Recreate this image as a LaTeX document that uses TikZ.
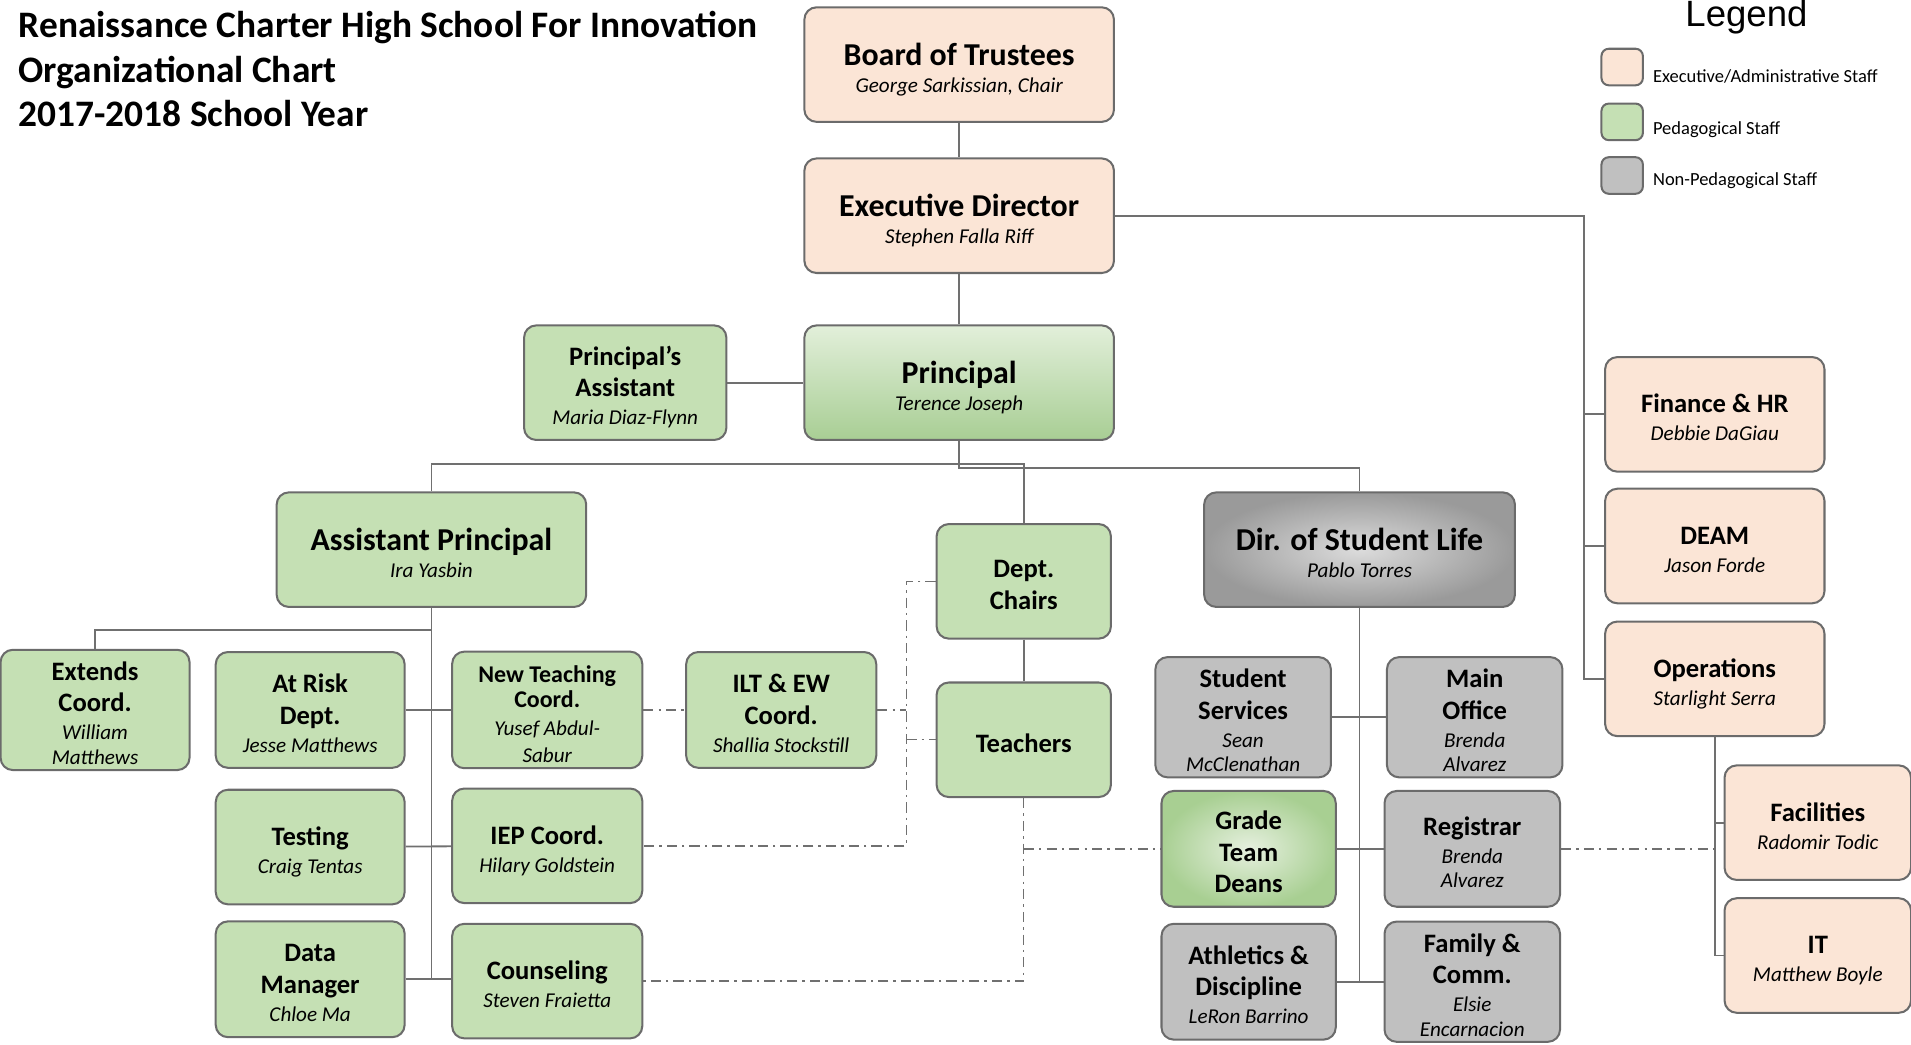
\documentclass[tikz,border=0pt]{standalone}
\usepackage{fontspec}
\setmainfont{Carlito}
\newfontfamily\legendfont{Liberation Sans}
\definecolor{peach}{HTML}{FBE5D6}
\definecolor{pedgreen}{HTML}{C5E0B4}
\definecolor{npgray}{HTML}{C0C0C0}
\definecolor{boxline}{HTML}{6B6B6B}
\definecolor{linkgray}{HTML}{707070}
\definecolor{prtop}{HTML}{E2EFDA}
\definecolor{prbot}{HTML}{A8CE94}
\definecolor{slin}{HTML}{DCDCDC}
\definecolor{slout}{HTML}{9A9A9A}
\definecolor{gdin}{HTML}{E6F0DF}
\definecolor{gdout}{HTML}{A8CF92}
% italic name line under a unit title
\newcommand\nm{\fontsize{10.4}{12}\selectfont\mdseries\itshape}
% struts that fix the first line's height and the last line's depth
\newcommand\bst{\rule{0pt}{17pt}}
\newcommand\sst{\rule{0pt}{15pt}}
\newcommand\dst{\rule[-2.8pt]{0pt}{2.8pt}}
\begin{document}
\begin{tikzpicture}[x=0.6pt,y=-0.6pt,
  every node/.style={inner sep=0pt, align=center},
  wh/.style 2 args={minimum width={#1*0.6pt}, minimum height={#2*0.6pt}},
  unit/.style={draw=boxline, line width=1pt, rounded corners=6pt},
  exec/.style={unit, fill=peach},
  peda/.style={unit, fill=pedgreen},
  nonp/.style={unit, fill=npgray},
  bigt/.style={font=\fontsize{15.7}{18}\selectfont\bfseries},
  smt/.style={font=\fontsize{13.1}{15.6}\selectfont\bfseries},
  link/.style={draw=linkgray, line width=0.9pt},
  dlink/.style={draw=linkgray, line width=0.7pt, dash pattern=on 5pt off 2.5pt on 1.2pt off 2.5pt}
]
\useasboundingbox (0,0) rectangle (1568,857);

% heading
\node[anchor=north west, align=left, font=\fontsize{18.4}{21.9}\selectfont\bfseries] (title) at (15,9)
  {Renaissance Charter High School For Innovation\\Organizational Chart\\2017-2018 School Year};

% legend
\node[anchor=base, font=\legendfont\fontsize{18}{20}\selectfont] (legend) at (1433,22) {Legend};
\node[exec, rounded corners=3.6pt, wh={34}{30}] (k1) at (1331,55) {};
\node[peda, rounded corners=3.6pt, wh={34}{30}] (k2) at (1331,100) {};
\node[nonp, rounded corners=3.6pt, wh={34}{30}] (k3) at (1331,144) {};
\node[anchor=base west, font=\fontsize{9.1}{11}\selectfont] (l1) at (1356,68) {Executive/Administrative Staff};
\node[anchor=base west, font=\fontsize{9.1}{11}\selectfont] (l2) at (1356,110) {Pedagogical Staff};
\node[anchor=base west, font=\fontsize{9.1}{11}\selectfont] (l3) at (1356,152) {Non-Pedagogical Staff};

% leadership column
\node[exec, bigt, wh={254}{94}] (bot) at (787,53) {\bst Board of Trustees\\[-4.8pt]\nm George Sarkissian, Chair\dst};
\node[exec, bigt, wh={254}{94}] (ed) at (787,177) {\bst Executive Director\\[-4.8pt]\nm Stephen Falla Riff\dst};
\node[unit, top color=prtop, bottom color=prbot, bigt, wh={254}{94}] (prin) at (787,314) {\bst Principal\\[-4.8pt]\nm Terence Joseph\dst};
\node[peda, smt, wh={166}{94}] (pa) at (513,314) {\sst Principal’s\\Assistant\\[-1.8pt]\nm Maria Diaz-Flynn\dst};

% second level
\node[peda, bigt, wh={254}{94}] (ap) at (354,451) {\bst Assistant Principal\\[-4.8pt]\nm Ira Yasbin\dst};
\node[peda, smt, wh={143}{94}] (dc) at (840,477) {\sst Dept.\\Chairs\dst};
\node[unit, inner color=slin, outer color=slout, bigt, wh={255}{94}] (dsl) at (1115.5,451) {\bst Dir. of Student Life\\[-4.8pt]\nm Pablo Torres\dst};
\node[peda, smt, wh={143}{94}] (tea) at (840,607) {\sst Teachers\dst};

% assistant principal's units
\node[peda, smt, wh={155}{95}] (ext) at (78,582.5) {\sst Extends\\Coord.\\[-1.8pt]\nm William\\[-3.6pt]\nm Matthews\dst};
\node[peda, smt, wh={155}{95}] (ar) at (254.5,582.5) {\sst At Risk\\Dept.\\[-1.8pt]\nm Jesse Matthews\dst};
\node[peda, font=\fontsize{11.8}{12.6}\selectfont\bfseries, wh={156}{95}] (ntc) at (449,582.5) {\sst New Teaching\\Coord.\\[1.2pt]\nm Yusef Abdul-\\[0.6pt]\nm Sabur\dst};
\node[peda, smt, wh={156}{95}] (ilt) at (641,582.5) {\sst ILT \& EW\\Coord.\\[-1.8pt]\nm Shallia Stockstill\dst};
\node[peda, smt, wh={155}{94}] (tst) at (254.5,695) {\sst Testing\\[-1.8pt]\nm Craig Tentas\dst};
\node[peda, smt, wh={156}{94}] (iep) at (449,694) {\sst IEP Coord.\\[-1.8pt]\nm Hilary Goldstein\dst};
\node[peda, smt, wh={155}{95}] (dm) at (254.5,803.5) {\sst Data\\Manager\\[-1.8pt]\nm Chloe Ma\dst};
\node[peda, smt, wh={156}{94}] (cou) at (449,805) {\sst Counseling\\[-1.8pt]\nm Steven Fraietta\dst};

% student life units
\node[nonp, smt, wh={144}{95}] (ss) at (1020,588.5) {\sst Student\\Services\\[-1.8pt]\nm Sean\\[-3.6pt]\nm McClenathan\dst};
\node[nonp, smt, wh={144}{95}] (mo) at (1210,588.5) {\sst Main\\Office\\[-1.8pt]\nm Brenda\\[-3.6pt]\nm Alvarez\dst};
\node[unit, inner color=gdin, outer color=gdout, smt, wh={143}{95}] (gtd) at (1024.5,696.5) {\sst Grade\\Team\\Deans\dst};
\node[nonp, smt, wh={144}{95}] (reg) at (1208,696.5) {\sst Registrar\\[-1.8pt]\nm Brenda\\[-3.6pt]\nm Alvarez\dst};
\node[nonp, smt, wh={143}{95}] (ath) at (1024.5,805.5) {\sst Athletics \&\\Discipline\\[-1.8pt]\nm LeRon Barrino\dst};
\node[nonp, smt, wh={144}{95}] (fam) at (1208,805.5) {\sst Family \&\\Comm.\\[-1.8pt]\nm Elsie\\[-3.6pt]\nm Encarnacion\dst};

% administration units
\node[exec, smt, wh={180}{94}] (fin) at (1407,340) {\sst Finance \& HR\\[-1.8pt]\nm Debbie DaGiau\dst};
\node[exec, smt, wh={180}{94}] (deam) at (1407,448) {\sst DEAM\\[-1.8pt]\nm Jason Forde\dst};
\node[exec, smt, wh={180}{94}] (ops) at (1407,557) {\sst Operations\\[-1.8pt]\nm Starlight Serra\dst};
\node[exec, smt, wh={153}{94}] (fac) at (1491.5,675) {\sst Facilities\\[-1.8pt]\nm Radomir Todic\dst};
\node[exec, smt, wh={153}{94}] (it) at (1491.5,784) {\sst IT\\[-1.8pt]\nm Matthew Boyle\dst};

% reporting lines
\coordinate (exbus) at (1300,177);
\coordinate (apbus) at (787,381);
\coordinate (apj) at (354,517);
\coordinate (dslend) at (1115.5,805.5);
\coordinate (apend) at (354,804);
\draw[link] (bot) -- (ed);
\draw[link] (ed) -- (prin);
\draw[link] (ed.east) -- (exbus) |- (ops.west);
\draw[link] (exbus) |- (fin.west);
\draw[link] (exbus) |- (deam.west);
\draw[link] (pa) -- (prin);
\draw[link] (ap.north) |- (apbus) -| (dc.north);
\draw[link] (prin.south) -- ++(0,22) -| (dsl.north);
\draw[link] (ap.south) -- (apj) -- (apend);
\draw[link] (apj) -| (ext.north);
\draw[link] (ar) -- (ntc);
\draw[link] (tst) -- (iep);
\draw[link] (dm.east) -- (dm.east -| cou.west);
\draw[link] (dc) -- (tea);
\draw[link] (dsl.south) -- (dslend);
\draw[link] (ss) -- (mo);
\draw[link] (gtd) -- (reg);
\draw[link] (ath) -- (fam);
\draw[link] (ops.south) |- (it.west);
\draw[link] (ops.south |- fac.west) -- (fac.west);

% collaboration lines
\draw[dlink] (ntc) -- (ilt);
\draw[dlink] (dc.west) -- ++(-24,0) coordinate (dcv) |- (iep.east);
\draw[dlink] (ilt.east) -- (ilt.east -| dcv);
\draw[dlink] (tea.west -| dcv) -- (tea.west);
\draw[dlink] (tea.south) |- (cou.east);
\draw[dlink] (tea.south |- gtd.west) -- (gtd.west);
\draw[dlink] (reg.east) -- (reg.east -| ops.south);
\end{tikzpicture}
\end{document}
